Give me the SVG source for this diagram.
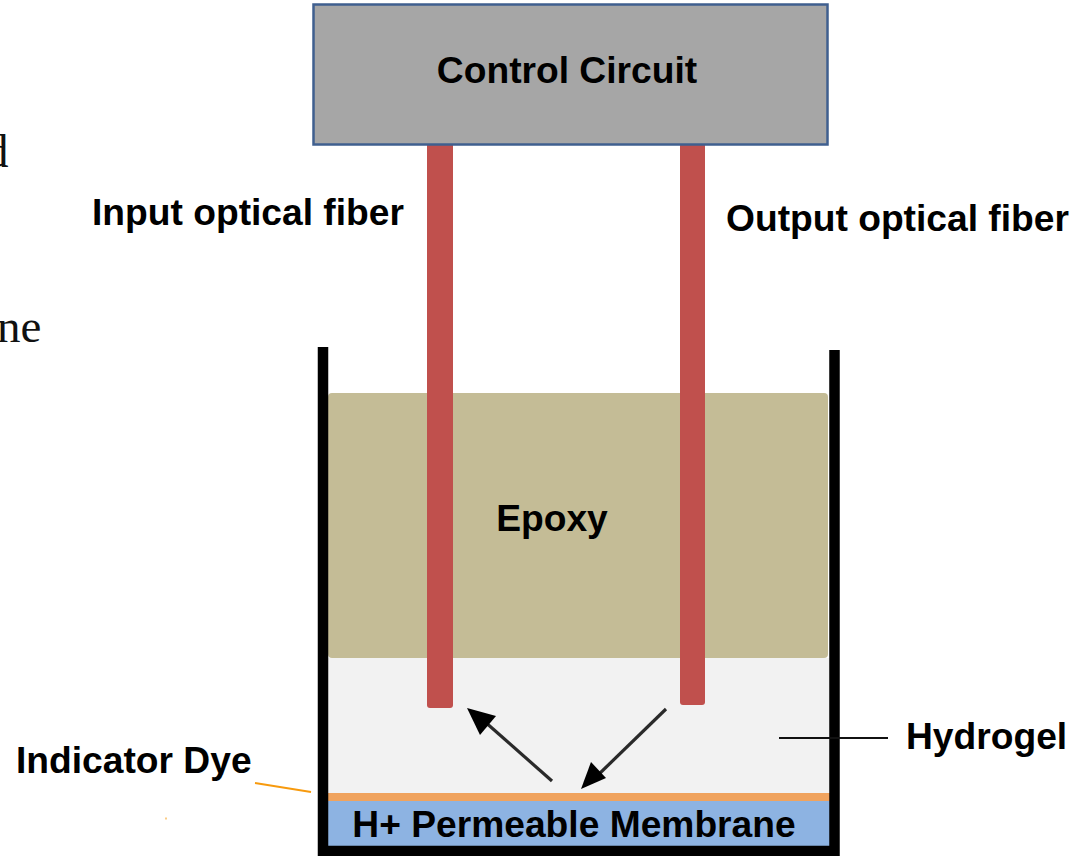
<svg xmlns="http://www.w3.org/2000/svg" width="1075" height="856" viewBox="0 0 1075 856">
<style>
.l{font-family:"Liberation Sans",Arial,sans-serif;font-weight:700;font-size:37.200px;fill:#000}
.s{font-family:"Liberation Serif","Times New Roman",serif;font-size:47px;fill:#111}
.fiber{fill:#c0504d}
.a{stroke:#2a2a2a;stroke-width:3.200;fill:none}
</style>
<rect width="1075" height="856" fill="#fff"/>
<text class="s" x="-15" y="167">d</text>
<text class="s" x="-3" y="342">ne</text>
<g id="epoxy"><rect x="328" y="393" width="500" height="265" rx="4" fill="#c4bc96"/><text class="l" x="552" y="531" text-anchor="middle">Epoxy</text></g>
<g id="hydrogel"><rect x="328" y="658" width="502" height="136" fill="#f2f2f2"/><text class="l" x="906" y="749">Hydrogel</text></g>
<g id="membrane"><rect x="326" y="800" width="506" height="48" fill="#8db3e2"/><text class="l" x="574" y="837" text-anchor="middle">H+ Permeable Membrane</text></g>
<g id="indicator-dye"><rect x="328" y="793" width="504" height="8" fill="#f0a35e"/><text class="l" x="16" y="773">Indicator Dye</text></g>
<g id="container"><path d="M323 347V851H834.500V350" fill="none" stroke="#000" stroke-width="10.500"/></g>
<g id="input-fiber"><rect class="fiber" x="427" y="140" width="26" height="568" rx="3"/><text class="l" x="92" y="225">Input optical fiber</text></g>
<g id="output-fiber"><rect class="fiber" x="680" y="140" width="25" height="565" rx="3"/><text class="l" x="726" y="231">Output optical fiber</text></g>
<g id="control-circuit"><rect x="313.500" y="4.500" width="514" height="140" fill="#a6a6a6" stroke="#3f5f8f" stroke-width="2.500"/><text class="l" x="567" y="83" text-anchor="middle">Control Circuit</text></g>
<g id="connectors">
<path class="a" d="M552 781L484 721"/><path d="M467 708L496 716L480 735Z" fill="#000"/>
<path class="a" d="M666 709L597 776"/><path d="M581 789L591 762L606 778Z" fill="#000"/>
<path d="M779 738H888" stroke="#111" stroke-width="1.800" fill="none"/>
<path d="M255 783L311 792" stroke="#f79a0e" stroke-width="1.800" fill="none"/>
<path d="M166 817.500V819.500" stroke="#f79a0e" stroke-width="1" fill="none"/>
</g>
</svg>
